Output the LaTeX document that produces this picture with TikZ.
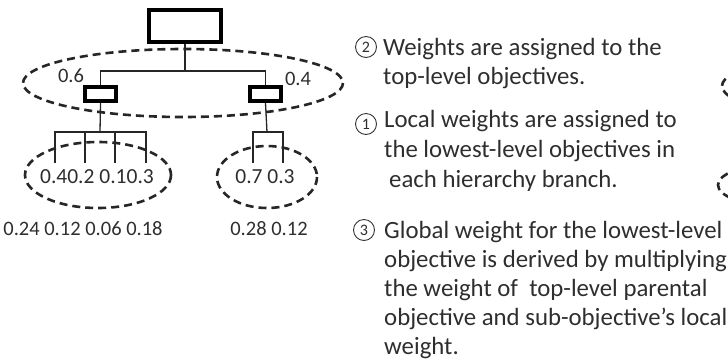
\documentclass[tikz,border=0pt]{standalone}
\usepackage{fontspec}
\setmainfont{Carlito}
\begin{document}
\begin{tikzpicture}[x=1pt,y=-1pt,
  txt/.style={inner sep=0pt,anchor=base west,text=black!82,font=\fontsize{24.8}{28}\selectfont},
  num/.style={inner sep=0pt,anchor=base,text=black!82,font=\fontsize{20.5}{24}\selectfont},
  objbox/.style={draw=black,line width=4pt,inner sep=0pt,fill=white},
  conn/.style={line width=1.3pt,black!85},
  grp/.style={draw=black!85,line width=2.6pt,dash pattern=on 8pt off 5pt},
  circ/.style={circle,draw=black!80,line width=0.9pt,inner sep=0pt,minimum size=21pt,text=black!82,font=\fontsize{16}{16}\selectfont}]
\useasboundingbox (0,0) rectangle (728,360);
\clip (0,0) rectangle (728,360);
% dashed groups
\draw[grp] (183,83) ellipse [x radius=160, y radius=34];
\draw[grp] (98,175) ellipse [x radius=73, y radius=33];
\draw[grp] (267,177) ellipse [x radius=50, y radius=31];
\draw[grp] (882,86) ellipse [x radius=160, y radius=34];
\draw[grp] (772,185) ellipse [x radius=54, y radius=20];
% boxes
\node[objbox,minimum width=72pt,minimum height=32pt] (top) at (185,26) {};
\node[objbox,minimum width=31pt,minimum height=14pt] (l) at (100.5,94) {};
\node[objbox,minimum width=31pt,minimum height=14pt] (r) at (265.5,94) {};
% coordinates
\coordinate (hy) at (0,71);
\coordinate (lb) at (100,132);
\coordinate (rb) at (267,132);
\coordinate (a1) at (55,163);
\coordinate (a2) at (85,163);
\coordinate (a3) at (115,163);
\coordinate (a4) at (146,163);
\coordinate (b1) at (253,163);
\coordinate (b2) at (283,163);
% connectors
\draw[conn] (top.south) -- (top.south |- hy);
\draw[conn] (l.north) -- (l.north |- hy) -- (r.north |- hy) -- (r.north);
\draw[conn] (l.south) -- (lb);
\draw[conn] (a1) -- (a1 |- lb) -- (a4 |- lb) -- (a4);
\draw[conn] (a2) -- (a2 |- lb);
\draw[conn] (a3) -- (a3 |- lb);
\draw[conn] (r.south) -- (rb);
\draw[conn] (b1) -- (b1 |- rb) -- (b2 |- rb) -- (b2);
% weights
\node[num] (w6) at (71,82) {0.6};
\node[num] (w4) at (298,85) {0.4};
\node[num,font=\fontsize{21.5}{24}\selectfont] (lw) at (97,183) {0.40.2 0.10.3};
\node[num,font=\fontsize{21.5}{24}\selectfont] (rw) at (265,183) {0.7 0.3};
\node[num] (lg) at (83,235) {0.24 0.12 0.06 0.18};
\node[num] (rg) at (269,235) {0.28 0.12};
% explanations
\node[circ] (c2) at (366,47) {2};
\node[txt] (t21) at (383,55) {Weights are assigned to the};
\node[txt] (t22) at (383,84) {top-level objectives.};
\node[circ] (c1) at (366,124) {1};
\node[txt] (t11) at (384,127) {Local weights are assigned to};
\node[txt] (t12) at (384,157) {the lowest-level objectives in};
\node[txt] (t13) at (389,187) {each hierarchy branch.};
\node[circ] (c3) at (364,230) {3};
\node[txt] (t31) at (384,238) {Global weight for the lowest-level};
\node[txt] (t32) at (384,267) {objective is derived by multiplying};
\node[txt] (t33) at (384,296) {the weight of\ \ top-level parental};
\node[txt] (t34) at (384,325) {objective and sub-objective’s local};
\node[txt] (t35) at (384,354) {weight.};
\end{tikzpicture}
\end{document}
